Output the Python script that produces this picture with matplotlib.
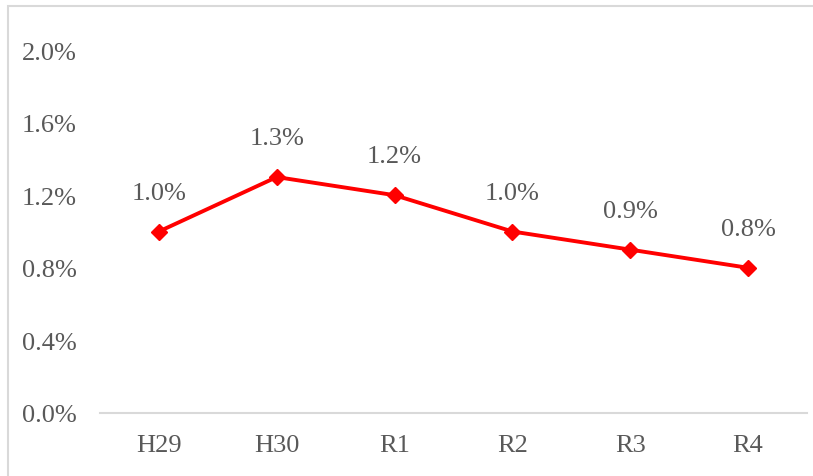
import matplotlib
matplotlib.use("Agg")
import matplotlib.pyplot as plt
from matplotlib.patches import Rectangle
from matplotlib.ticker import FuncFormatter

categories = ["H29", "H30", "R1", "R2", "R3", "R4"]
rates = [1.0, 1.3, 1.2, 1.0, 0.9, 0.8]  # percent
y_ticks = [0.0, 0.4, 0.8, 1.2, 1.6, 2.0]

plt.rcParams["font.family"] = ["Liberation Serif", "DejaVu Serif"]
text_color = "#595959"
grid_gray = "#D9D9D9"

W, H = 813, 477
fig = plt.figure(figsize=(W / 100, H / 100), dpi=100)

# chart frame
fig.patches.append(Rectangle((8 / W, -0.1), 1.2, 1 - 7 / H + 0.1,
                             transform=fig.transFigure, fill=False,
                             edgecolor=grid_gray, linewidth=1.5))

ax = fig.add_axes([100 / W, 1 - 414 / H, (807 - 100) / W, (414 - 51) / H])
x = list(range(len(categories)))
ax.plot(x, rates, color="#FF0000", linewidth=2.8, marker="D",
        markersize=8, markeredgecolor="#FF0000", markerfacecolor="#FF0000",
        zorder=3, clip_on=False)

for xi, v in zip(x, rates):
    ax.annotate(f"{v:.1f}%", (xi, v), xytext=(0, 28), textcoords="offset points",
                ha="center", va="center", fontsize=19, color=text_color)

ax.set_xlim(-0.5, len(categories) - 0.5)
ax.set_ylim(0, 2.0)
ax.set_xticks(x)
ax.set_xticklabels(categories)
ax.set_yticks(y_ticks)
ax.yaxis.set_major_formatter(FuncFormatter(lambda v, p: f"{v:.1f}%"))

for s in ["top", "right", "left"]:
    ax.spines[s].set_visible(False)
ax.spines["bottom"].set_color(grid_gray)
ax.spines["bottom"].set_linewidth(1.5)
ax.tick_params(axis="both", length=0, labelsize=19, labelcolor=text_color)
ax.tick_params(axis="y", pad=17)
ax.tick_params(axis="x", pad=15)

fig.savefig("out.png", dpi=100)
